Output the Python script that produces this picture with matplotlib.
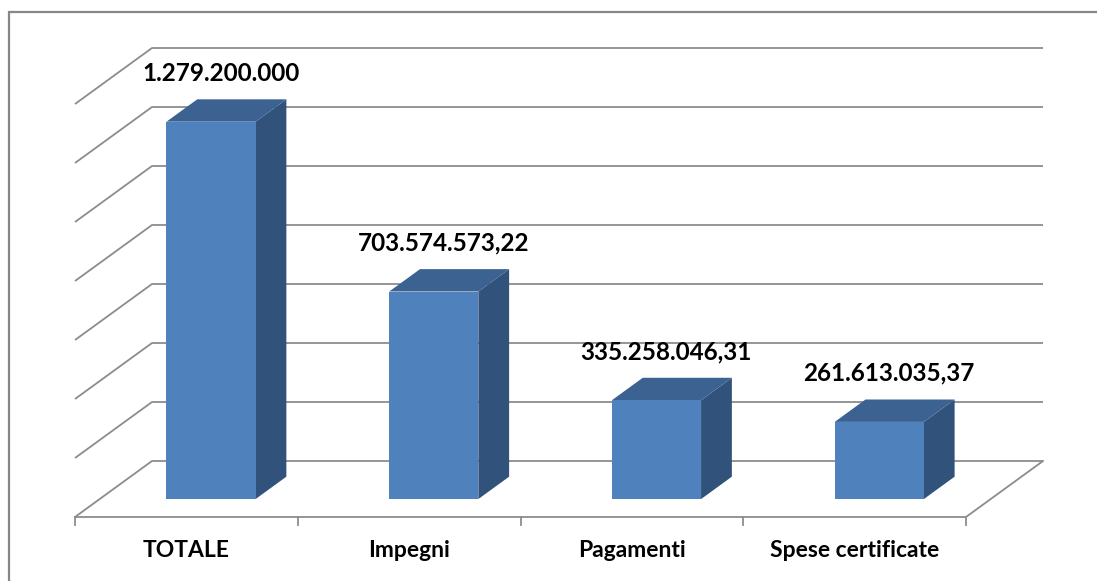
import matplotlib.pyplot as plt
from matplotlib.patches import Polygon, Rectangle

# data
categories = ["TOTALE", "Impegni", "Pagamenti", "Spese certificate"]
values = [1279200000.0, 703574573.22, 335258046.31, 261613035.37]
value_labels = ["1.279.200.000", "703.574.573,22", "335.258.046,31", "261.613.035,37"]
y_max = 1400000000
y_step = 200000000

# pseudo 3d layout (pixels)
W, H = 1097, 581
px_per_cat = 222.75
x0_px = 75            # left front corner of floor
y0_px = 64            # floor front, from bottom
px_per_val = 59 / y_step
depth_dx, depth_dy = 77, 56      # full depth of the walls, in px
bar_z0, bar_z1 = 0.32, 0.72       # bar depth span (fraction of full depth)
bar_w = 0.4                       # fraction of category width

front_col = "#4F81BD"
top_col = "#3C6292"
side_col = "#31527B"
grid_col = "#8C8C8C"

fig = plt.figure(figsize=(W / 100, H / 100), dpi=100)
ax = fig.add_axes([0, 0, 1, 1])
ax.set_xlim(-x0_px / px_per_cat, (W - x0_px) / px_per_cat)
ax.set_ylim(-y0_px / px_per_val, (H - y0_px) / px_per_val)
ax.axis("off")

DX = depth_dx / px_per_cat
DY = depth_dy / px_per_val


def proj(x, y, z):
    return (x + z * DX, y + z * DY)


n = len(categories)

# walls and floor gridlines
v = 0
while v <= y_max:
    a = proj(0, v, 0)
    b = proj(0, v, 1)
    c = proj(n, v, 1)
    ax.plot([a[0], b[0], c[0]], [a[1], b[1], c[1]], color=grid_col, lw=1.3,
            solid_capstyle="butt", zorder=1)
    v += y_step

# floor front and right edge
fr = [proj(0, 0, 0), proj(n, 0, 0), proj(n, 0, 1)]
ax.plot([p[0] for p in fr], [p[1] for p in fr], color=grid_col, lw=1.3, zorder=1)

# ticks
tick_len = 8 / px_per_val
for i in range(n + 1):
    ax.plot([i, i], [0, -tick_len], color=grid_col, lw=1.3, zorder=1)

# bars
for i, val in enumerate(values):
    xl = i + (1 - bar_w) / 2
    xr = xl + bar_w
    front = [proj(xl, 0, bar_z0), proj(xr, 0, bar_z0), proj(xr, val, bar_z0), proj(xl, val, bar_z0)]
    side = [proj(xr, 0, bar_z0), proj(xr, 0, bar_z1), proj(xr, val, bar_z1), proj(xr, val, bar_z0)]
    top = [proj(xl, val, bar_z0), proj(xr, val, bar_z0), proj(xr, val, bar_z1), proj(xl, val, bar_z1)]
    ax.add_patch(Polygon(side, closed=True, facecolor=side_col, edgecolor="none", zorder=3))
    ax.add_patch(Polygon(top, closed=True, facecolor=top_col, edgecolor="none", zorder=3))
    ax.add_patch(Polygon(front, closed=True, facecolor=front_col, edgecolor="none", zorder=4))

    lx, ly = proj(i + 0.5, val, bar_z0)
    ax.annotate(value_labels[i], (lx, ly), xytext=(7, 35), textcoords="offset points",
                ha="center", va="center", fontsize=17.5, fontweight="bold",
                family="Lato", color="black", zorder=5)

# category labels
for i, cat in enumerate(categories):
    ax.annotate(cat, (i + 0.5, 0), xytext=(0, -24), textcoords="offset points",
                ha="center", va="center", fontsize=16.5, fontweight="bold",
                family="Lato", color="black")

# outer chart border
fig.patches.append(Rectangle((9 / W, -0.1), 1.2, (H - 12) / H + 0.1,
                             transform=fig.transFigure, fill=False,
                             edgecolor="#878787", lw=1.6))

plt.savefig("out.png", dpi=100)
